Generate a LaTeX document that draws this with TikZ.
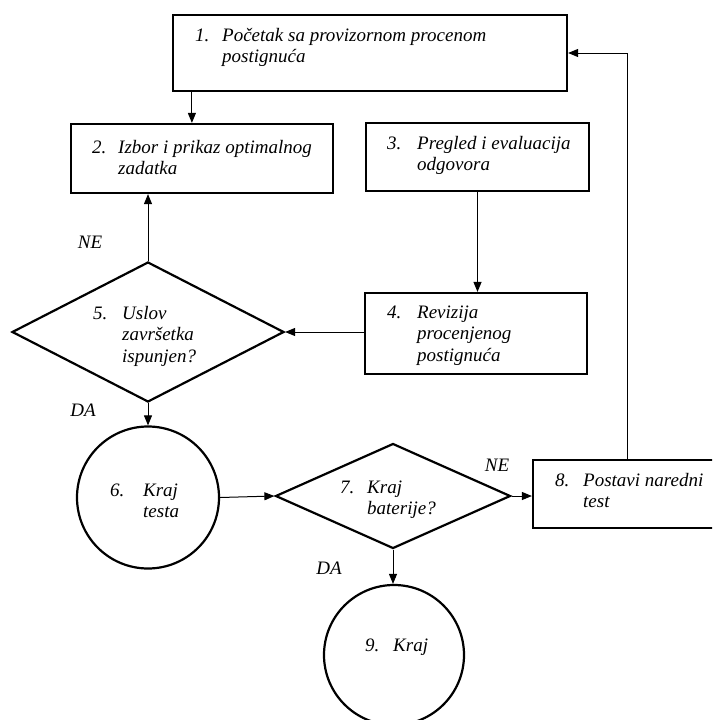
\documentclass[tikz,border=0pt]{standalone}
\usepackage{fontspec}
\setmainfont{Liberation Serif}
\usetikzlibrary{arrows.meta,shapes.geometric,calc}
\newcommand\stavka[3][28pt]{\makebox[#1][l]{#2}\begin{tabular}[t]{@{}l@{}}#3\end{tabular}}
\tikzset{
  blk/.style  ={draw,line width=2.2pt,rectangle,inner sep=0pt},
  odl/.style  ={draw,line width=2.2pt,diamond,inner sep=0pt},
  krug/.style ={draw,line width=2.2pt,circle,inner sep=0pt},
  txt/.style  ={anchor=base west,inner sep=0pt,font=\fontsize{19}{21.5}\selectfont\itshape},
  lbl/.style  ={inner sep=0pt,font=\fontsize{19}{21.5}\selectfont\itshape},
  flow/.style ={-{Triangle[length=10pt,width=8pt]},line width=1pt},
}

\begin{document}
\begin{tikzpicture}[x=1pt,y=-1pt]
  \clip (0,0) rectangle (712,720);
  \fill[white] (0,0) rectangle (712,720);
  \node[blk,minimum width=394pt,minimum height=76pt] (b1) at (370,53) {};
  \node[blk,minimum width=262pt,minimum height=69pt] (b2) at (202,158.5) {};
  \node[blk,minimum width=223pt,minimum height=68pt] (b3) at (477.5,157) {};
  \node[blk,minimum width=222pt,minimum height=81pt] (b4) at (476,333.5) {};
  \node[odl,minimum width=272pt,minimum height=140pt] (d5) at (148,332) {};
  \node[krug,minimum size=142pt] (c6) at (148,497.5) {};
  \node[odl,minimum width=235pt,minimum height=105pt] (d7) at (393,496) {};
  \node[blk,minimum width=181pt,minimum height=68pt] (b8) at (623.5,494) {};
  \node[krug,minimum size=140pt] (c9) at (394,655) {};

  \node[txt] (t1) at (195,41)  {\stavka[27pt]{1.}{Početak sa provizornom procenom\\postignuća}};
  \node[txt] (t2) at (92,153)  {\stavka[26pt]{2.}{Izbor i prikaz optimalnog\\zadatka}};
  \node[txt] (t3) at (387,149) {\stavka[30pt]{3.}{Pregled i evaluacija\\odgovora}};
  \node[txt] (t4) at (387,318) {\stavka[30pt]{4.}{Revizija\\procenjenog\\postignuća}};
  \node[txt] (t5) at (93,319)  {\stavka[29pt]{5.}{Uslov\\završetka\\ispunjen?}};
  \node[txt] (t6) at (110,496) {\stavka[33pt]{6.}{Kraj\\testa}};
  \node[txt] (t7) at (340,493) {\stavka[27pt]{7.}{Kraj\\baterije?}};
  \node[txt] (t8) at (555,486) {\stavka[28pt]{8.}{Postavi naredni\\test}};
  \node[txt] (t9) at (365,651) {\stavka[28pt]{9.}{Kraj}};

  \node[lbl] (ne5) at (90,242)  {NE};
  \node[lbl] (da5) at (83,410)  {DA};
  \node[lbl] (ne7) at (497,465) {NE};
  \node[lbl] (da7) at (329,568) {DA};

  \draw[flow] ([xshift=20pt]b1.south west) -- ([xshift=20pt]b1.south west |- b2.north);
  \draw[flow] (d5.north) -- (d5.north |- b2.south);
  \draw[flow] (b3.south) -- (b3.south |- b4.north);
  \draw[flow] (b4.west |- d5.east) -- (d5.east);
  \draw[flow] (d5.south) -- (c6.north);
  \draw[flow] (c6.east) -- (d7.west);
  \draw[flow] (d7.east) -- (d7.east -| b8.west);
  \draw[flow] (d7.south) -- (d7.south |- c9.north);
  \draw[flow] ([xshift=4pt]b8.north) |- (b1.east);
\end{tikzpicture}
\end{document}
